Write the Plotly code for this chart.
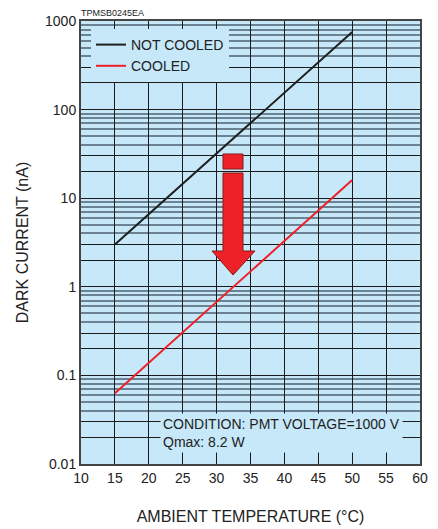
import plotly.graph_objects as go

# ---- data ----
temps = [15, 50]
not_cooled = [3.0, 750]
cooled = [0.063, 16]
x_ticks = [10, 15, 20, 25, 30, 35, 40, 45, 50, 55, 60]
decades = [0.01, 0.1, 1, 10, 100, 1000]
decade_labels = ["0.01", "0.1", "1", "10", "100", "1000"]

# major grid (1,2,3 per decade) labelled only at decades; minor (4..9) gray
major_vals, major_text, minor_vals = [], [], []
for d, lab in zip(decades, decade_labels):
    major_vals.append(d)
    major_text.append(lab)
    if d < 1000:
        for m in (2, 3):
            major_vals.append(d * m)
            major_text.append("")
        for m in range(4, 10):
            minor_vals.append(d * m)

BG = "#c6e8f8"
FONT = "Liberation Sans, Arial, Helvetica, sans-serif"

fig = go.Figure()
fig.add_trace(go.Scatter(x=temps, y=not_cooled, mode="lines", name="NOT COOLED",
                         line=dict(color="#1e1e1e", width=2)))
fig.add_trace(go.Scatter(x=temps, y=cooled, mode="lines", name="COOLED",
                         line=dict(color="#ee2028", width=2)))

# plot-area pixel geometry used for the decorative arrow (paper coords)
L, R, T, B = 81, 420, 21, 464
def px(x):
    return (x - L) / (R - L)
def py(y):
    return (B - y) / (B - T)

# small square
fig.add_shape(type="rect", xref="paper", yref="paper",
              x0=px(223), x1=px(243), y0=py(169), y1=py(154),
              fillcolor="#ee2028", line=dict(color="#8a1a1a", width=1), layer="above")
# arrow
pts = [(223, 173), (243, 173), (243, 251), (255, 251), (233, 275), (212, 251), (223, 251)]
path = "M " + " L ".join(f"{px(a):.4f},{py(b):.4f}" for a, b in pts) + " Z"
fig.add_shape(type="path", xref="paper", yref="paper", path=path,
              fillcolor="#ee2028", line=dict(color="#8a1a1a", width=1), layer="above")

fig.add_annotation(xref="paper", yref="paper", x=px(160), y=py(453),
                   xanchor="left", yanchor="bottom", align="left", showarrow=False,
                   text="CONDITION: PMT VOLTAGE=1000 V<br>Qmax: 8.2 W",
                   font=dict(family=FONT, size=14, color="#222"),
                   bgcolor=BG, borderpad=2)
fig.add_annotation(xref="paper", yref="paper", x=0, y=1, xanchor="left", yanchor="bottom",
                   showarrow=False, text="TPMSB0245EA", yshift=1, xshift=-2,
                   font=dict(family=FONT, size=9, color="#222"))

fig.update_layout(
    width=438, height=529,
    margin=dict(l=81, r=18, t=21, b=65, autoexpand=False),
    paper_bgcolor="white", plot_bgcolor=BG,
    font=dict(family=FONT, size=14, color="#222"),
    showlegend=True,
    legend=dict(x=px(91), y=py(29), xanchor="left", yanchor="top",
                bgcolor=BG, font=dict(size=14, color="#222"),
                tracegroupgap=0, itemwidth=30),
    xaxis=dict(range=[10, 60], tickvals=x_ticks, ticks="", showgrid=True, automargin=False,
               gridcolor="#1a1a1a", gridwidth=1, zeroline=False,
               showline=True, linecolor="#444", linewidth=2, mirror=True,
               title=dict(text="AMBIENT TEMPERATURE (°C)", font=dict(size=16), standoff=26),
               tickfont=dict(size=14)),
    yaxis=dict(type="log", range=[-2, 3], tickvals=major_vals, ticktext=major_text,
               ticks="", showgrid=True, gridcolor="#1a1a1a", gridwidth=1, automargin=False,
               minor=dict(tickvals=minor_vals, showgrid=True, gridcolor="#6a8292",
                          gridwidth=1.5, ticks=""),
               zeroline=False, showline=True, linecolor="#444", linewidth=2, mirror=True,
               title=dict(text="DARK CURRENT (nA)", font=dict(size=16), standoff=12),
               tickfont=dict(size=14)),
)

fig.write_html("out.html", config={"displayModeBar": False},
               post_script="document.body.style.margin='0';document.body.style.padding='0';")
